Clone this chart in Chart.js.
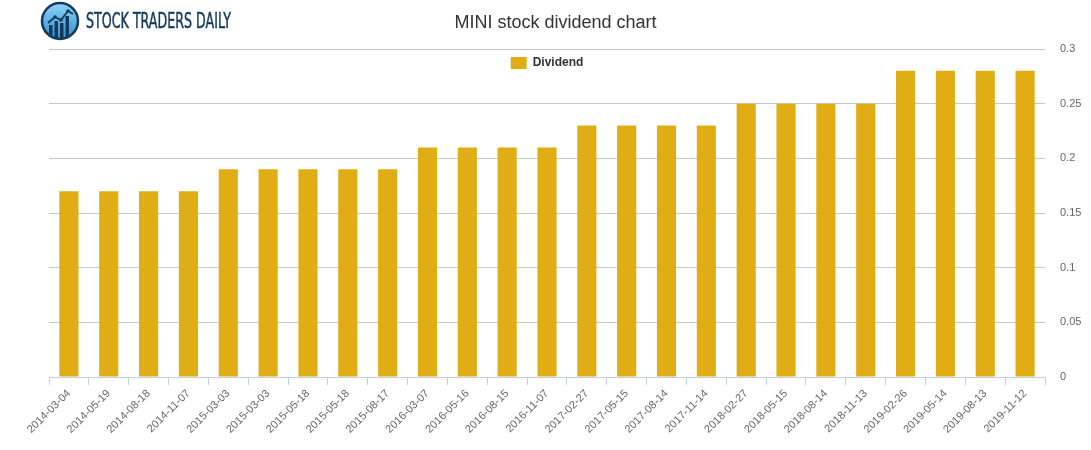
<!DOCTYPE html>
<html>
<head>
<meta charset="utf-8">
<script src="https://cdn.jsdelivr.net/npm/chart.js@4"></script>
<style>
  html,body{margin:0;padding:0;background:#fff;}
  #wrap{position:relative;width:1091px;height:450px;}
  #logo{position:absolute;left:40px;top:1px;height:40px;display:flex;align-items:center;}
  #logo span{display:inline-block;font-family:"DejaVu Sans Condensed","Liberation Sans Narrow",sans-serif;font-size:21px;color:#163a5c;margin-left:6px;transform:scaleX(0.67);transform-origin:left center;white-space:nowrap;-webkit-text-stroke:0.5px #163a5c;}
</style>
</head>
<body>
<div id="wrap">
  <canvas id="c" width="1091" height="450"></canvas>
  <div id="logo">
    <svg width="40" height="40" viewBox="0 0 40 40">
      <defs>
        <linearGradient id="g" x1="0" y1="0" x2="0" y2="1">
          <stop offset="0" stop-color="#8fd3f7"/>
          <stop offset="1" stop-color="#2f8fd0"/>
        </linearGradient>
      </defs>
      <circle cx="20" cy="20" r="18" fill="url(#g)" stroke="#163a5c" stroke-width="2.5"/>
      <rect x="9" y="24" width="3.5" height="12" fill="#163a5c"/>
      <rect x="14.5" y="20" width="3.5" height="17" fill="#163a5c"/>
      <rect x="20" y="22" width="3.5" height="15" fill="#163a5c"/>
      <rect x="25.5" y="15" width="3.5" height="21" fill="#163a5c"/>
      <polyline points="8,22 15,16 21,19 28,10 33,13" fill="none" stroke="#163a5c" stroke-width="1.8"/>
      <circle cx="15" cy="16" r="1.8" fill="#163a5c"/>
      <circle cx="21" cy="19" r="1.8" fill="#163a5c"/>
      <circle cx="28" cy="10" r="1.8" fill="#163a5c"/>
    </svg>
    <span>STOCK TRADERS DAILY</span>
  </div>
</div>
<script>
const categories = [
  "2014-03-04","2014-05-19","2014-08-18","2014-11-07",
  "2015-03-03","2015-03-03","2015-05-18","2015-05-18","2015-08-17",
  "2016-03-07","2016-05-16","2016-08-15","2016-11-07",
  "2017-02-27","2017-05-15","2017-08-14","2017-11-14",
  "2018-02-27","2018-05-15","2018-08-14","2018-11-13",
  "2019-02-26","2019-05-14","2019-08-13","2019-11-12"
];
const dividends = [
  0.17,0.17,0.17,0.17,
  0.19,0.19,0.19,0.19,0.19,
  0.21,0.21,0.21,0.21,
  0.23,0.23,0.23,0.23,
  0.25,0.25,0.25,0.25,
  0.28,0.28,0.28,0.28
];
const yTicks = [0,0.05,0.1,0.15,0.2,0.25,0.3];
const seriesName = "Dividend";
const chartTitle = "MINI stock dividend chart";

Chart.defaults.font.family = '"Liberation Sans", Arial, Helvetica, sans-serif';
Chart.defaults.color = '#666';

// Let the legend overlay the top of the plot area (takes no layout height)
const legendOverlay = {
  id: 'legendOverlay',
  beforeLayout(chart) {
    const lg = chart.legend;
    if (lg && !lg._overlayPatched) {
      const orig = lg.update.bind(lg);
      lg.update = function (w, h, m) {
        orig(w, h, m);
        this._realHeight = this.height;
        this.height = 0;
      };
      lg._overlayPatched = true;
    }
  },
  afterLayout(chart) {
    const lg = chart.legend;
    if (lg && lg._realHeight !== undefined) {
      lg.height = lg._realHeight;
      lg.bottom = lg.top + lg._realHeight;
    }
  }
};

new Chart(document.getElementById('c'), {
  type: 'bar',
  data: {
    labels: categories,
    datasets: [{
      label: seriesName,
      data: dividends,
      backgroundColor: '#e0ad15',
      borderWidth: 0,
      categoryPercentage: 0.8,
      barPercentage: 0.6,
      yAxisID: 'y'
    }]
  },
  plugins: [legendOverlay],
  options: {
    responsive: false,
    animation: false,
    devicePixelRatio: 1,
    layout: { padding: { left: 20, right: 0, top: 0, bottom: 0 } },
    plugins: {
      title: {
        display: true,
        text: chartTitle,
        color: '#333',
        font: { size: 18, weight: 'normal' },
        padding: { top: 12, bottom: 15.4 }
      },
      legend: {
        position: 'top',
        align: 'center',
        fullSize: false,
        labels: {
          boxWidth: 16,
          boxHeight: 12,
          color: '#333',
          font: { size: 12, weight: 'bold' },
          padding: 8
        }
      },
      tooltip: { enabled: false }
    },
    scales: {
      x: {
        offset: true,
        afterFit: (axis) => { axis.height = 73; },
        grid: {
          offset: true,
          drawOnChartArea: false,
          drawTicks: true,
          tickLength: 8,
          color: '#c0d0e0'
        },
        border: { color: '#c0d0e0', width: 1 },
        ticks: {
          autoSkip: false,
          maxRotation: 45,
          minRotation: 45,
          font: { size: 11 },
          color: '#666',
          padding: 2
        }
      },
      y: {
        position: 'right',
        min: 0,
        max: 0.3,
        afterBuildTicks: (axis) => { axis.ticks = yTicks.map(v => ({ value: v })); },
        afterFit: (axis) => { axis.width = 46; },
        grid: {
          color: '#c8c8c8',
          drawTicks: false
        },
        border: { display: false },
        ticks: {
          font: { size: 11 },
          color: '#666',
          padding: 15,
          callback: (v) => String(v)
        }
      },
      yLeft: {
        position: 'left',
        display: true,
        min: 0,
        max: 0.3,
        afterFit: (axis) => { axis.width = 29; },
        grid: { display: false },
        border: { display: false },
        ticks: { display: false }
      }
    }
  }
});
</script>
</body>
</html>
